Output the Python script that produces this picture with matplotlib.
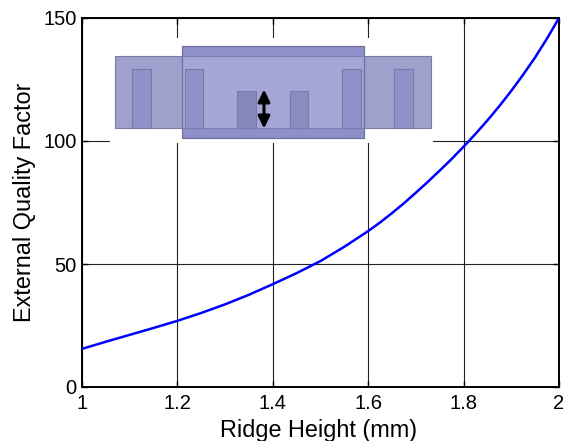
import matplotlib.pyplot as plt
from matplotlib.patches import FancyArrowPatch, Rectangle

plt.rcParams["font.family"] = ["Liberation Sans", "DejaVu Sans"]

WIDTH, HEIGHT = 565, 441

# values
ridge_height = [1.0, 1.05, 1.1, 1.15, 1.2, 1.25, 1.3, 1.35, 1.4, 1.45, 1.5, 1.55,
                1.6, 1.625, 1.65, 1.675, 1.7, 1.725, 1.75, 1.775, 1.8, 1.825, 1.85,
                1.875, 1.9, 1.925, 1.95, 1.975, 2.0]
quality_factor = [15.5, 18.4, 21.2, 24, 26.9, 30.1, 33.6, 37.5, 41.8, 46.3, 51.2, 57,
                  63.4, 66.9, 70.7, 74.7, 79, 83.4, 88, 92.7, 97.7, 102.9, 108.4,
                  114.2, 120.4, 127, 134, 141.7, 150]
x_ticks = [1, 1.2, 1.4, 1.6, 1.8, 2]
x_tick_labels = ["1", "1.2", "1.4", "1.6", "1.8", "2"]
y_ticks = [0, 50, 100, 150]

fig = plt.figure(figsize=(WIDTH / 100, HEIGHT / 100), dpi=100)
ax = fig.add_axes([82 / WIDTH, 1 - 387 / HEIGHT, 477 / WIDTH, 369 / HEIGHT])

ax.plot(ridge_height, quality_factor, color="#0000ff", lw=1.8, zorder=3)
ax.set_xlim(1, 2)
ax.set_ylim(0, 150)
ax.set_xticks(x_ticks, x_tick_labels)
ax.set_yticks(y_ticks)
ax.grid(True, color="#222222", lw=0.8)
ax.set_axisbelow(True)
ax.tick_params(axis="both", direction="in", length=4, width=1, labelsize=14.5, top=True, right=True)
ax.tick_params(axis="x", pad=5)
ax.tick_params(axis="y", pad=4)
for spine in ax.spines.values():
    spine.set_linewidth(1.4)
ax.set_xlabel("Ridge Height (mm)", fontsize=16.9, va="baseline")
ax.xaxis.set_label_coords(319 / WIDTH, (HEIGHT - 437) / HEIGHT, transform=fig.transFigure)
ax.set_ylabel("External Quality Factor", fontsize=16.9, labelpad=5)

# waveguide sketch pasted over the plot, in pixel coordinates of the figure
sketch = fig.add_axes([0, 0, 1, 1], facecolor="none")
sketch.set_xlim(0, WIDTH)
sketch.set_ylim(HEIGHT, 0)
sketch.axis("off")


def box(x0, y0, x1, y1, color, edge="#7a7aa8"):
    sketch.add_patch(Rectangle((x0, y0), x1 - x0, y1 - y0, fc=color, ec=edge, lw=0.8))


box(110, 38, 433, 143, "white", "none")
box(115, 56, 431, 128, "#a0a0cd")
box(182, 46, 364, 138, "#8f8fc9")
box(182, 56, 364, 128, "#a6a6d6", "#7f7fb0")
for x0, x1 in [(132, 151), (184.5, 203), (342, 361), (394, 413)]:
    box(x0, 69, x1, 128, "#9191c9")
box(237, 91, 256, 128, "#8686bd")
box(290, 91, 308, 128, "#8b8bc3")
sketch.add_patch(Rectangle((182, 46), 182, 92, fc="none", ec="#6f6fa0", lw=0.8))
sketch.add_patch(FancyArrowPatch((264, 89.5), (264, 128.5),
                                 arrowstyle="<|-|>,head_length=0.45,head_width=0.22",
                                 mutation_scale=16, color="black", lw=2.2,
                                 shrinkA=0, shrinkB=0))

fig.savefig("out.png", dpi=100)
